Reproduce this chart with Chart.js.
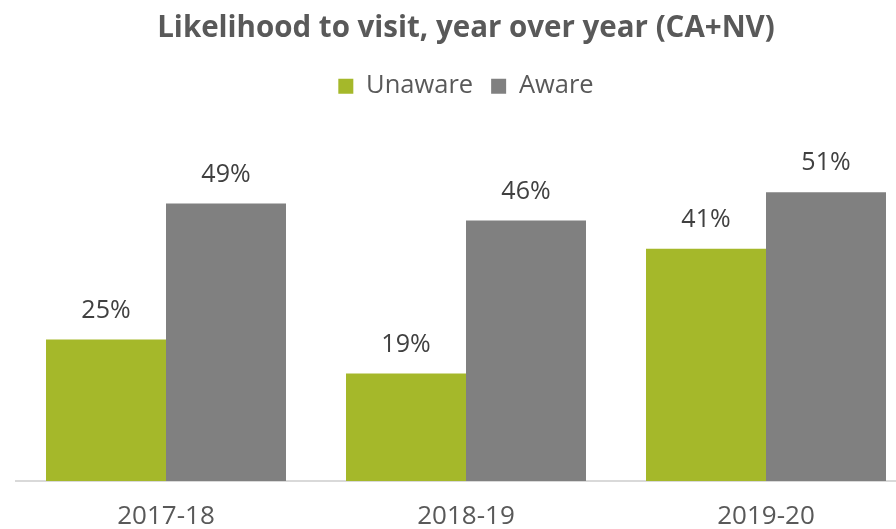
<!DOCTYPE html>
<html>
<head>
<meta charset="utf-8">
<script src="https://cdn.jsdelivr.net/npm/chart.js"></script>
<style>
  html, body { margin: 0; padding: 0; background: #fff; overflow: hidden; }
  #wrap { width: 926px; height: 529px; }
</style>
</head>
<body>
<div id="wrap"><canvas id="chart" width="926" height="529"></canvas></div>
<script>
const categories = ['2017-18', '2018-19', '2019-20'];
const unaware = [25, 19, 41];
const aware = [49, 46, 51];

const FONT = "'Open Sans', sans-serif";
const TEXT = '#595959';

// value labels above each bar
const barLabels = {
    id: 'barLabels',
    afterDatasetsDraw(chart) {
        const ctx = chart.ctx;
        ctx.save();
        ctx.font = '25px ' + FONT;
        ctx.fillStyle = '#404040';
        ctx.textAlign = 'center';
        ctx.textBaseline = 'middle';
        chart.data.datasets.forEach((ds, i) => {
            chart.getDatasetMeta(i).data.forEach((bar, j) => {
                ctx.fillText(ds.data[j] + '%', bar.x, bar.y - 29);
            });
        });
        ctx.restore();
    }
};

const ctx = document.getElementById('chart').getContext('2d');
new Chart(ctx, {
    type: 'bar',
    data: {
        labels: categories,
        datasets: [{
            label: 'Unaware',
            data: unaware,
            backgroundColor: '#a5b82a',
            categoryPercentage: 0.8,
            barPercentage: 1.0,
        }, {
            label: 'Aware',
            data: aware,
            backgroundColor: '#808080',
            categoryPercentage: 0.8,
            barPercentage: 1.0,
        }]
    },
    options: {
        responsive: false,
        animation: false,
        layout: { padding: { left: 16, right: 10, top: 0, bottom: -24 } },
        plugins: {
            title: {
                display: true,
                text: 'Likelihood to visit, year over year (CA+NV)',
                color: TEXT,
                font: { family: FONT, size: 29.5, weight: 'bold', lineHeight: 1.2 },
                padding: { top: 11, bottom: 9 },
            },
            legend: {
                display: true,
                labels: {
                    color: TEXT,
                    font: { family: FONT, size: 25.5 },
                    boxWidth: 15,
                    boxHeight: 15,
                    padding: 18,
                },
            },
            tooltip: { enabled: false },
        },
        scales: {
            x: {
                grid: { display: false, drawTicks: false },
                border: { display: true, color: '#d9d9d9', width: 2 },
                ticks: {
                    color: TEXT,
                    font: { family: FONT, size: 26, lineHeight: 1.0 },
                    padding: 23,
                },
            },
            y: {
                display: false,
                min: 0,
                max: 65.7,
            }
        }
    },
    plugins: [barLabels]
});
</script>
</body>
</html>
